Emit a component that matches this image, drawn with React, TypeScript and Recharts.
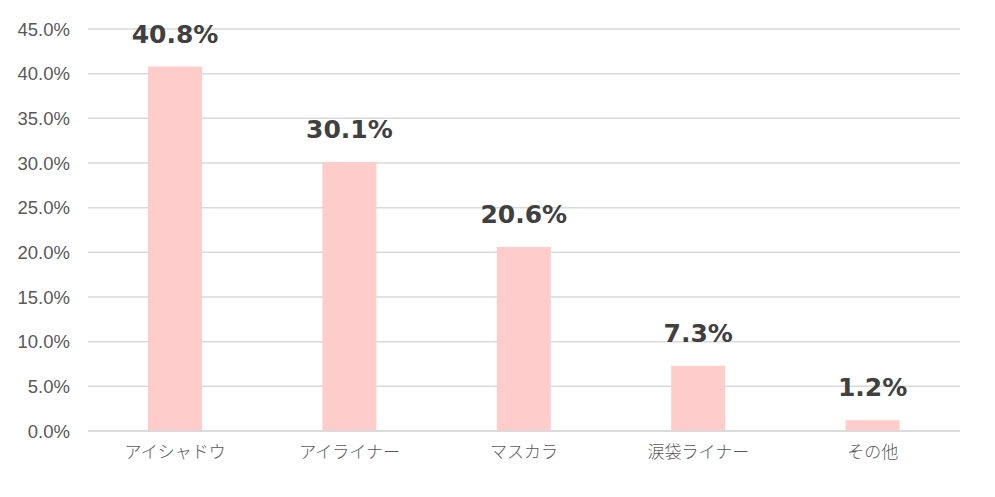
import React from "react";
import { BarChart, Bar, XAxis, YAxis, CartesianGrid, LabelList } from "recharts";

const categories = ["アイシャドウ", "アイライナー", "マスカラ", "涙袋ライナー", "その他"];
const values = [40.8, 30.1, 20.6, 7.3, 1.2];
const yTicks = [0, 5, 10, 15, 20, 25, 30, 35, 40, 45];

const data = categories.map((name, i) => ({ name, value: values[i] }));

export default function App() {
  return (
    <div style={{ position: "absolute", left: 0, top: 0, width: 995, height: 497, background: "#fff" }}>
      <BarChart
        width={995}
        height={497}
        data={data}
        margin={{ top: 29, right: 35, bottom: 0, left: 0 }}
        barSize={54}
      >
        <CartesianGrid vertical={false} stroke="#d9d9d9" strokeWidth={1.5} />
        <XAxis
          dataKey="name"
          height={66}
          axisLine={{ stroke: "#d9d9d9", strokeWidth: 1.5 }}
          tickLine={false}
          tickSize={0}
          tickMargin={15}
          tick={{ fill: "#595959", fontSize: 17, fontFamily: "'Noto Sans CJK JP', sans-serif", fontWeight: 300 }}
        />
        <YAxis
          width={88}
          domain={[0, 45]}
          ticks={yTicks}
          axisLine={false}
          tickLine={false}
          tickSize={0}
          tickMargin={18}
          tickFormatter={(v: number) => `${v.toFixed(1)}%`}
          tick={{ fill: "#595959", fontSize: 18.5, fontFamily: "'Liberation Sans', Arial, sans-serif" }}
        />
        <Bar dataKey="value" fill="#ffcccc" isAnimationActive={false}>
          <LabelList
            dataKey="value"
            position="top"
            offset={24}
            formatter={(v: number) => `${v.toFixed(1)}%`}
            style={{ fill: "#404040", fontSize: 25, fontWeight: 700, fontFamily: "'DejaVu Sans', Verdana, sans-serif" }}
          />
        </Bar>
      </BarChart>
    </div>
  );
}
